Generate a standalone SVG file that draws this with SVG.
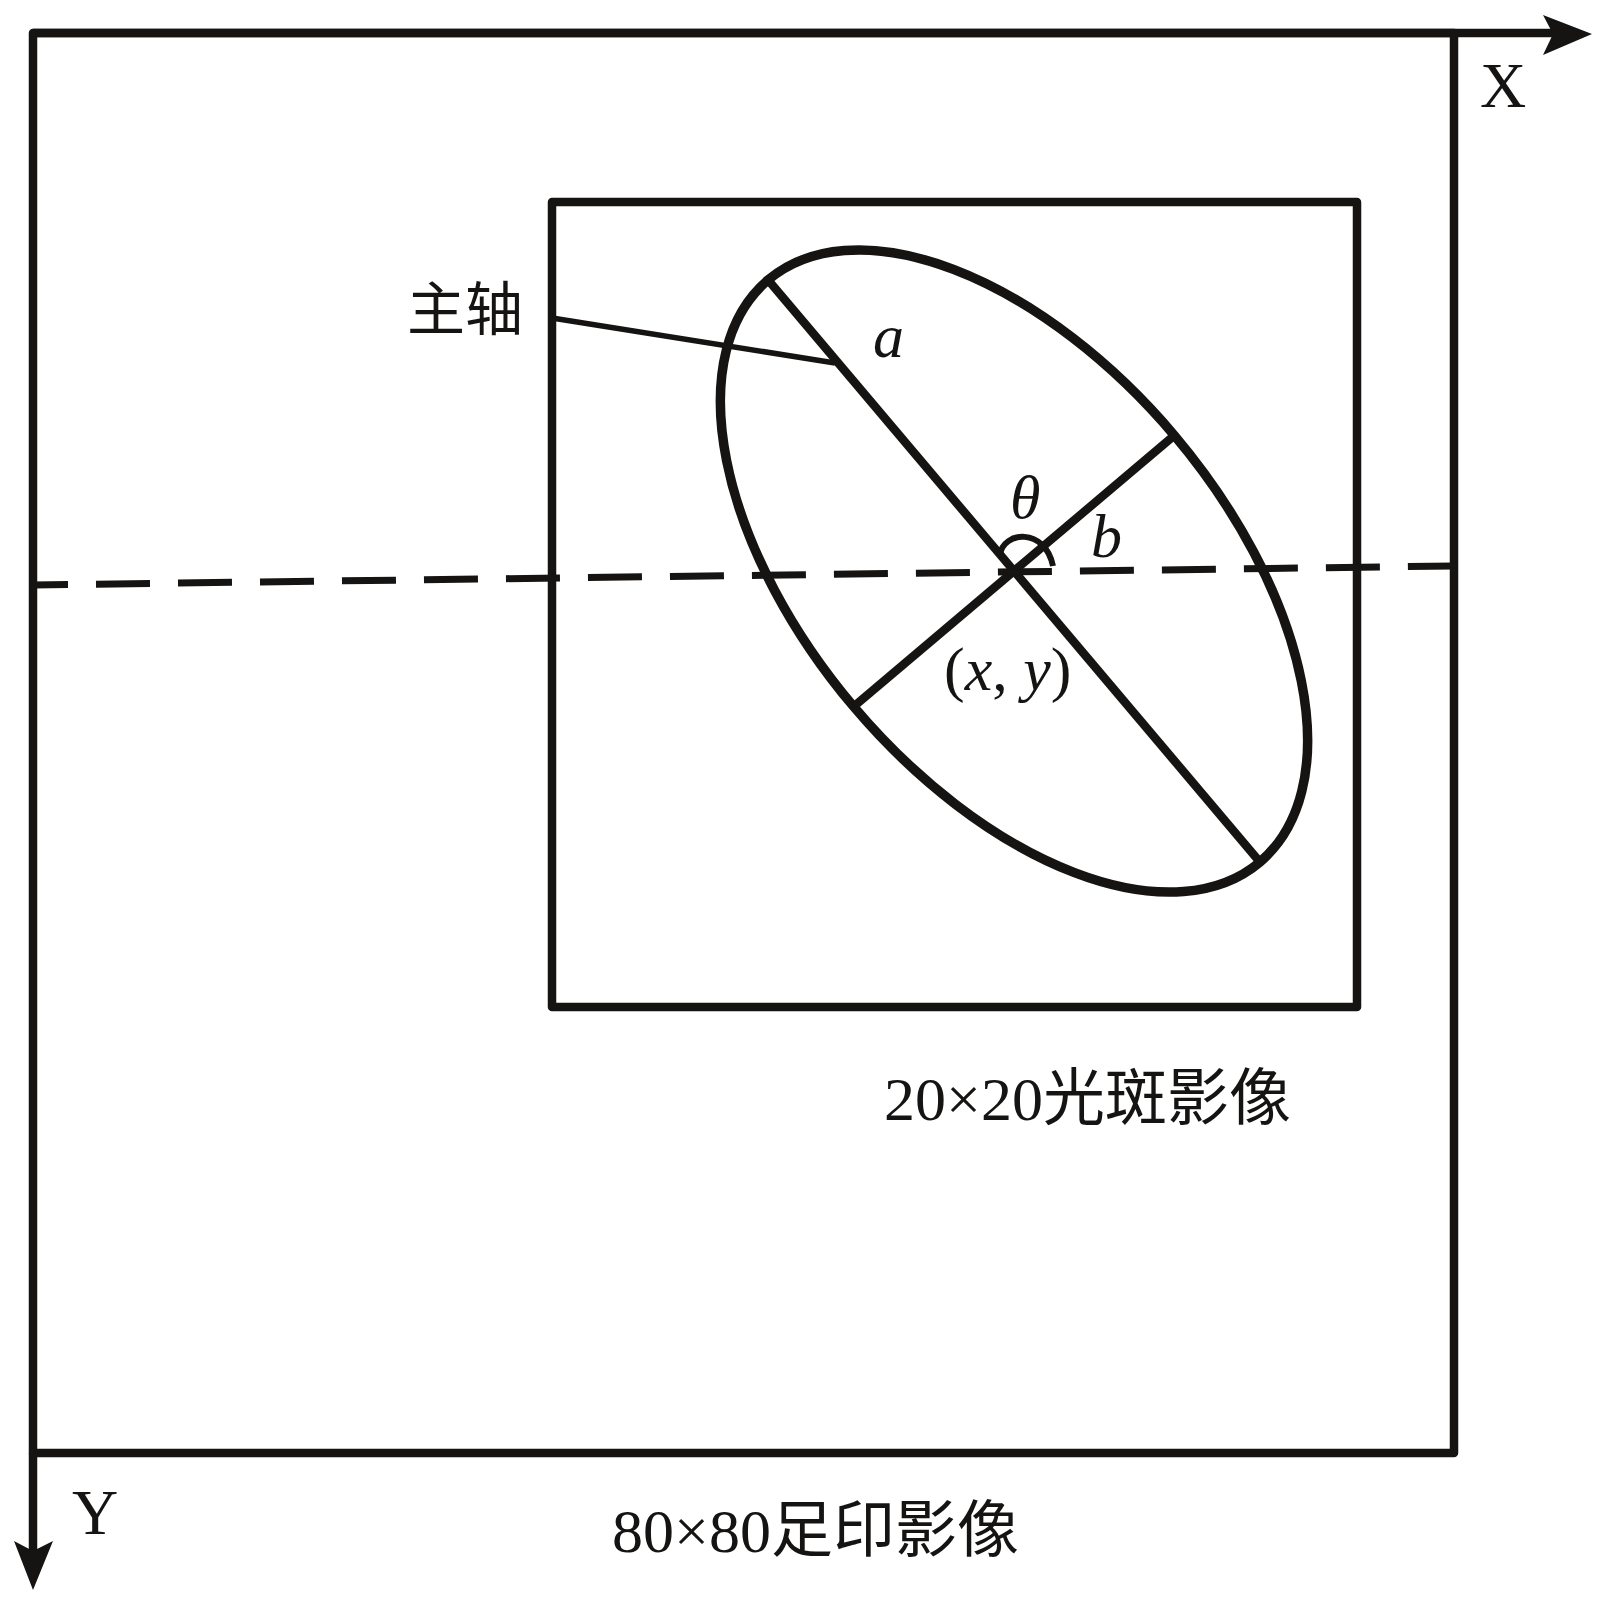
<svg xmlns="http://www.w3.org/2000/svg" width="1606" height="1606" viewBox="0 0 1606 1606">
<style>
.ln{fill:none;stroke:#161412;stroke-linejoin:round}
.t{font-family:"Liberation Serif","Noto Sans CJK SC",serif;fill:#161412}
.cjk{font-family:"Noto Sans CJK SC","Liberation Serif",sans-serif;fill:#161412}
.it{font-style:italic}
</style>
<rect width="1606" height="1606" fill="#fff"/>
<g id="footprint-image">
<rect class="ln" x="33" y="33" width="1421" height="1420" stroke-width="8.5"/>
</g>
<g id="spot-image">
<rect class="ln" x="552" y="202" width="805" height="805" stroke-width="8.5"/>
</g>
<g id="ellipse" transform="translate(1014 571) rotate(49.8)">
<ellipse class="ln" cx="0" cy="0" rx="381" ry="210" stroke-width="9.5"/>
<line class="ln" x1="-379" y1="0" x2="379" y2="0" stroke-width="8.5"/>
<line class="ln" x1="0" y1="-209" x2="0" y2="209" stroke-width="8.5"/>
</g>
<g id="connectors">
<line class="ln" x1="33" y1="33" x2="1556" y2="33" stroke-width="8.5"/>
<polygon points="1592,34 1543,15 1553,34 1543,55" fill="#161412"/>
<line class="ln" x1="33" y1="1453" x2="33" y2="1553" stroke-width="8.5"/>
<polygon points="33,1590 14,1541 33,1551 53,1541" fill="#161412"/>
<line class="ln" x1="33" y1="585" x2="1454" y2="566" stroke-width="7" stroke-dasharray="54 28" stroke-dashoffset="19"/>
<line class="ln" x1="552" y1="318" x2="835" y2="363" stroke-width="5.5"/>
<path class="ln" d="M1000,555 C1003,531 1045,527 1053,566" stroke-width="6"/>
</g>
<g id="labels">
<text class="t" x="1480" y="107" font-size="64">X</text>
<text class="t" x="72" y="1534" font-size="64">Y</text>
<text class="cjk" x="407" y="330" font-size="58">主轴</text>
<text class="t it" x="873" y="357" font-size="62">a</text>
<text class="t it" x="1010" y="518" font-size="62">θ</text>
<text class="t it" x="1091" y="557" font-size="62">b</text>
<text class="t" x="944" y="690" font-size="62">(<tspan class="it">x</tspan>, <tspan class="it">y</tspan>)</text>
<text class="t" x="884" y="1120" font-size="62">20×20<tspan class="cjk">光斑影像</tspan></text>
<text class="t" x="612" y="1552" font-size="62">80×80<tspan class="cjk">足印影像</tspan></text>
</g>
</svg>
